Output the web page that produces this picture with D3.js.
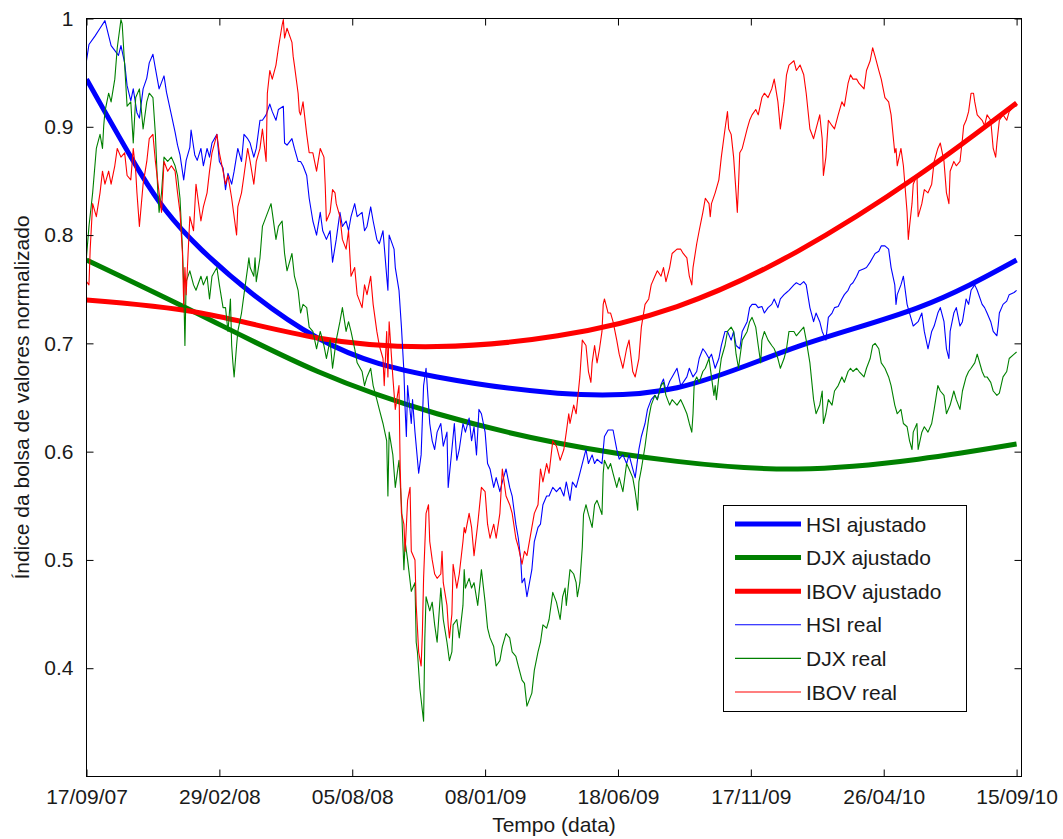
<!DOCTYPE html>
<html>
<head>
<meta charset="utf-8">
<script src="https://cdn.jsdelivr.net/npm/d3@7"></script>
<style>
  body { margin: 0; background: #fff; }
  text { font-family: "Liberation Sans", Arial, Helvetica, sans-serif; fill: #1a1a1a; }
</style>
</head>
<body>
<svg id="chart" width="1063" height="839"></svg>
<script>
// Trading-day index of each labelled date on the time axis
const dayTicks = [0, 108, 216, 324, 432, 540, 648, 756];
const dateLabels = ["17/09/07", "29/02/08", "05/08/08", "08/01/09", "18/06/09", "17/11/09", "26/04/10", "15/09/10"];
const valueTicks = [0.4, 0.5, 0.6, 0.7, 0.8, 0.9, 1];

// Normalised index series: [trading day, value]
const hsiReal = [[0,.961],[2,.976],[7,.984],[11,.991],[15,.998],[20,.975],[26,.966],[28,.975],[31,.959],[33,.938],[36,.924],[38,.935],[41,.913],[43,.908],[46,.935],[49,.945],[51,.959],[54,.967],[56,.954],[59,.935],[63,.947],[65,.932],[69,.911],[72,.895],[74,.883],[76,.874],[79,.851],[81,.869],[84,.881],[85,.897],[88,.874],[90,.869],[93,.880],[95,.864],[98,.880],[100,.872],[102,.885],[106,.893],[108,.868],[111,.862],[113,.842],[115,.857],[118,.847],[120,.859],[123,.880],[126,.868],[128,.893],[131,.889],[133,.885],[136,.872],[138,.880],[141,.906],[143,.906],[146,.911],[149,.921],[151,.914],[154,.906],[156,.916],[160,.919],[161,.885],[163,.883],[167,.889],[169,.880],[172,.868],[174,.868],[176,.864],[179,.855],[181,.834],[184,.813],[187,.800],[190,.821],[192,.804],[195,.796],[198,.804],[200,.775],[203,.796],[206,.821],[208,.808],[211,.813],[213,.804],[215,.817],[218,.829],[220,.817],[224,.821],[226,.804],[228,.808],[231,.826],[233,.813],[236,.796],[238,.792],[241,.804],[244,.762],[245,.749],[246,.800],[250,.787],[251,.770],[254,.749],[256,.715],[258,.674],[259,.639],[260,.614],[261,.661],[264,.626],[265,.648],[267,.618],[270,.580],[272,.597],[274,.661],[276,.677],[279,.626],[281,.610],[283,.602],[285,.618],[288,.626],[290,.605],[293,.618],[294,.567],[297,.602],[299,.626],[301,.592],[303,.602],[306,.626],[308,.618],[311,.631],[313,.610],[315,.623],[317,.597],[319,.639],[321,.635],[324,.618],[326,.589],[328,.584],[331,.567],[333,.576],[336,.563],[338,.572],[341,.584],[344,.567],[346,.559],[349,.533],[351,.520],[353,.500],[354,.479],[356,.483],[358,.466],[362,.491],[364,.517],[367,.530],[369,.533],[371,.551],[374,.559],[376,.559],[379,.567],[382,.563],[385,.567],[388,.559],[390,.572],[393,.555],[395,.572],[398,.567],[401,.580],[403,.589],[406,.602],[408,.589],[411,.597],[413,.589],[415,.593],[419,.589],[421,.614],[424,.620],[428,.620],[431,.602],[433,.593],[436,.597],[439,.589],[441,.597],[444,.584],[446,.576],[449,.602],[451,.614],[454,.626],[456,.639],[459,.648],[462,.652],[464,.648],[467,.662],[469,.667],[471,.656],[474,.665],[476,.669],[480,.677],[483,.661],[485,.664],[488,.669],[490,.677],[493,.669],[496,.674],[498,.686],[501,.695],[503,.692],[506,.686],[508,.690],[511,.677],[514,.686],[516,.698],[519,.711],[521,.711],[524,.703],[526,.711],[528,.698],[531,.695],[533,.711],[537,.720],[539,.733],[541,.736],[544,.736],[546,.733],[549,.734],[551,.728],[554,.733],[557,.736],[559,.741],[562,.733],[564,.741],[567,.745],[569,.747],[571,.749],[575,.754],[577,.756],[580,.754],[583,.757],[585,.754],[588,.733],[591,.720],[593,.728],[596,.720],[598,.711],[601,.703],[603,.724],[606,.728],[608,.733],[611,.734],[614,.741],[616,.745],[619,.749],[621,.754],[623,.756],[626,.762],[628,.767],[632,.769],[634,.770],[637,.775],[639,.779],[641,.783],[644,.785],[646,.790],[649,.790],[652,.787],[654,.770],[657,.754],[658,.736],[659,.745],[662,.754],[664,.762],[667,.736],[669,.728],[672,.716],[676,.720],[679,.728],[681,.711],[684,.695],[687,.711],[689,.716],[692,.728],[694,.733],[697,.720],[699,.695],[701,.686],[702,.711],[705,.728],[707,.733],[710,.716],[712,.720],[715,.741],[717,.736],[719,.749],[722,.754],[724,.749],[728,.736],[730,.733],[732,.728],[735,.720],[737,.711],[740,.707],[741,.716],[742,.728],[745,.736],[748,.739],[750,.745],[754,.747],[756,.749]];

const djxReal = [[0,.780],[2,.808],[5,.839],[8,.880],[11,.893],[13,.880],[14,.901],[15,.914],[18,.931],[20,.923],[23,.944],[25,.973],[28,.999],[29,.995],[31,.957],[33,.919],[36,.923],[38,.885],[40,.927],[43,.935],[46,.898],[49,.923],[51,.931],[54,.927],[56,.893],[58,.839],[59,.821],[61,.839],[63,.872],[66,.868],[69,.872],[72,.864],[74,.855],[76,.834],[78,.787],[79,.754],[80,.698],[81,.757],[84,.767],[87,.754],[89,.749],[93,.762],[95,.754],[98,.762],[100,.741],[102,.762],[106,.770],[108,.754],[111,.733],[113,.733],[115,.711],[117,.741],[118,.698],[119,.682],[120,.669],[122,.698],[123,.711],[126,.728],[128,.745],[131,.770],[132,.779],[133,.770],[136,.762],[137,.779],[138,.757],[141,.779],[143,.808],[146,.817],[149,.826],[150,.829],[151,.821],[154,.796],[156,.808],[159,.813],[161,.783],[163,.767],[167,.783],[169,.762],[172,.749],[174,.728],[176,.736],[179,.733],[181,.715],[184,.711],[187,.695],[190,.711],[193,.698],[195,.686],[198,.703],[200,.677],[203,.703],[206,.720],[208,.733],[211,.711],[213,.720],[215,.711],[218,.695],[220,.682],[224,.674],[226,.661],[228,.669],[231,.677],[233,.661],[236,.648],[238,.639],[241,.626],[244,.610],[245,.559],[246,.618],[249,.597],[251,.567],[254,.592],[256,.551],[258,.491],[259,.517],[261,.500],[264,.471],[267,.479],[268,.424],[269,.415],[271,.381],[274,.351],[275,.428],[276,.466],[279,.453],[281,.461],[283,.440],[285,.424],[288,.474],[290,.445],[293,.424],[295,.407],[297,.415],[298,.440],[301,.445],[303,.428],[306,.458],[307,.491],[308,.474],[311,.483],[313,.474],[315,.479],[318,.458],[321,.491],[324,.461],[326,.437],[328,.428],[331,.420],[333,.402],[336,.407],[338,.420],[341,.432],[344,.428],[346,.415],[349,.411],[351,.402],[354,.389],[356,.386],[358,.365],[362,.377],[364,.398],[367,.415],[369,.424],[371,.440],[374,.437],[376,.445],[379,.470],[382,.461],[385,.445],[387,.466],[389,.474],[390,.458],[393,.491],[396,.487],[398,.479],[399,.466],[401,.479],[403,.512],[404,.542],[406,.551],[408,.542],[411,.530],[413,.551],[415,.555],[419,.542],[420,.580],[421,.592],[424,.584],[426,.589],[428,.580],[431,.567],[433,.576],[436,.563],[439,.589],[441,.584],[444,.576],[446,.563],[448,.546],[449,.572],[451,.584],[454,.605],[457,.631],[459,.643],[462,.652],[464,.648],[467,.661],[469,.664],[471,.652],[474,.643],[476,.648],[480,.643],[483,.648],[485,.643],[488,.635],[490,.626],[492,.618],[493,.635],[494,.664],[496,.669],[498,.664],[501,.674],[503,.677],[506,.686],[508,.669],[510,.652],[511,.661],[512,.648],[514,.669],[516,.686],[519,.698],[521,.711],[524,.715],[526,.711],[528,.690],[530,.677],[531,.686],[533,.703],[537,.711],[539,.720],[541,.724],[544,.715],[546,.698],[548,.682],[549,.703],[551,.711],[554,.703],[557,.698],[559,.695],[562,.686],[564,.677],[567,.686],[569,.695],[571,.711],[575,.711],[577,.707],[580,.711],[583,.715],[585,.703],[588,.682],[591,.648],[593,.635],[596,.643],[598,.656],[599,.626],[601,.635],[603,.648],[606,.643],[608,.656],[611,.661],[614,.669],[616,.664],[619,.674],[621,.677],[623,.674],[626,.677],[628,.674],[632,.669],[634,.677],[637,.686],[639,.698],[641,.700],[644,.695],[646,.682],[649,.677],[652,.669],[654,.661],[657,.643],[659,.635],[662,.639],[664,.626],[667,.623],[669,.610],[671,.602],[672,.618],[675,.626],[676,.602],[679,.618],[681,.623],[684,.618],[687,.626],[689,.639],[692,.661],[694,.656],[697,.652],[699,.635],[702,.643],[705,.656],[707,.648],[710,.639],[712,.656],[715,.669],[717,.674],[719,.677],[722,.682],[724,.690],[728,.674],[730,.669],[732,.669],[735,.664],[737,.656],[740,.652],[742,.654],[745,.669],[748,.674],[750,.686],[754,.690],[756,.692]];

const ibovReal = [[0,.757],[2,.754],[3,.787],[5,.829],[8,.817],[11,.839],[13,.859],[15,.847],[18,.859],[20,.847],[23,.864],[25,.880],[28,.872],[31,.876],[33,.855],[36,.851],[38,.880],[40,.859],[41,.839],[43,.808],[46,.847],[49,.868],[51,.889],[54,.893],[56,.868],[59,.839],[61,.821],[63,.868],[66,.859],[69,.864],[72,.859],[74,.839],[76,.821],[78,.783],[79,.736],[80,.770],[81,.745],[84,.817],[87,.804],[89,.847],[93,.813],[95,.826],[98,.839],[100,.859],[102,.876],[106,.893],[108,.876],[111,.859],[113,.847],[115,.855],[118,.834],[120,.817],[122,.800],[123,.826],[126,.839],[128,.855],[131,.880],[133,.868],[136,.847],[138,.868],[141,.880],[143,.898],[146,.868],[147,.931],[149,.952],[151,.944],[154,.957],[156,.973],[159,.994],[160,.999],[161,.982],[163,.991],[167,.978],[168,.965],[169,.957],[172,.931],[173,.914],[174,.911],[176,.923],[179,.893],[181,.876],[184,.876],[187,.859],[190,.880],[193,.872],[194,.847],[195,.813],[198,.821],[200,.842],[202,.839],[203,.829],[206,.817],[208,.796],[211,.787],[213,.804],[215,.762],[218,.770],[220,.745],[224,.733],[226,.754],[228,.745],[231,.762],[233,.736],[236,.711],[238,.698],[241,.686],[242,.661],[244,.711],[245,.669],[246,.720],[249,.669],[251,.639],[254,.661],[255,.584],[256,.543],[258,.533],[259,.508],[261,.555],[263,.567],[264,.508],[267,.500],[268,.458],[269,.437],[270,.415],[272,.402],[273,.432],[274,.483],[276,.543],[278,.551],[279,.517],[281,.500],[283,.487],[285,.483],[288,.487],[289,.508],[290,.479],[293,.458],[294,.440],[295,.428],[297,.450],[298,.496],[301,.474],[303,.487],[306,.517],[307,.530],[308,.525],[311,.543],[313,.530],[315,.504],[318,.533],[321,.567],[324,.563],[326,.533],[328,.520],[331,.533],[333,.520],[336,.543],[338,.584],[341,.559],[344,.551],[346,.543],[349,.520],[351,.512],[354,.496],[356,.508],[358,.504],[362,.530],[364,.543],[367,.551],[369,.584],[371,.572],[374,.589],[376,.580],[379,.610],[382,.605],[385,.592],[388,.602],[390,.618],[392,.635],[393,.626],[396,.643],[398,.635],[401,.669],[403,.703],[406,.698],[408,.674],[410,.664],[411,.682],[413,.698],[415,.682],[417,.695],[419,.711],[420,.736],[421,.741],[424,.728],[426,.728],[428,.720],[431,.703],[433,.690],[436,.677],[439,.695],[441,.703],[444,.674],[446,.669],[449,.686],[451,.715],[454,.736],[457,.741],[459,.754],[462,.762],[464,.767],[467,.762],[469,.770],[471,.757],[474,.770],[476,.783],[480,.787],[483,.787],[485,.783],[488,.779],[490,.762],[492,.754],[493,.770],[496,.792],[498,.804],[501,.821],[503,.834],[506,.829],[507,.817],[508,.829],[511,.839],[514,.851],[516,.872],[519,.898],[520,.906],[521,.914],[522,.898],[524,.893],[526,.872],[528,.839],[529,.821],[530,.847],[531,.876],[533,.880],[537,.898],[539,.906],[541,.911],[544,.916],[546,.911],[549,.927],[551,.931],[554,.927],[557,.935],[559,.944],[562,.923],[564,.898],[567,.923],[569,.948],[571,.957],[575,.961],[577,.952],[580,.957],[583,.948],[585,.931],[588,.898],[591,.889],[593,.898],[596,.911],[598,.889],[599,.855],[601,.872],[603,.906],[606,.901],[608,.898],[611,.911],[614,.923],[616,.919],[619,.940],[621,.948],[623,.944],[626,.944],[628,.940],[632,.935],[634,.952],[637,.961],[639,.973],[641,.965],[644,.952],[646,.944],[649,.927],[652,.923],[654,.911],[657,.876],[658,.880],[659,.864],[662,.880],[664,.864],[667,.821],[668,.796],[669,.808],[671,.829],[672,.847],[675,.855],[676,.817],[679,.829],[681,.842],[684,.839],[687,.847],[689,.868],[692,.880],[694,.885],[697,.868],[699,.839],[701,.829],[702,.859],[705,.868],[707,.864],[710,.868],[712,.889],[713,.901],[715,.906],[717,.914],[719,.931],[721,.931],[722,.923],[724,.911],[728,.906],[730,.901],[732,.911],[735,.906],[737,.880],[739,.872],[740,.885],[742,.906],[745,.911],[748,.906],[750,.914],[754,.919],[756,.919]];

// Fitted trends: [trading day, value]
const hsiFit  = [[0,.944],[44,.857],[93,.787],[188,.705],[285,.669],[383,.654],[480,.659],[578,.697],[676,.733],[756,.777]];
const djxFit  = [[0,.777],[93,.726],[188,.674],[285,.635],[383,.608],[480,.591],[578,.584],[676,.593],[756,.607]];
const ibovFit = [[0,.740],[93,.728],[188,.705],[285,.697],[383,.707],[480,.734],[578,.785],[676,.855],[756,.922]];

const seriesNames = ["HSI ajustado", "DJX ajustado", "IBOV ajustado", "HSI real", "DJX real", "IBOV real"];
const seriesColors = ["#0000ff", "#008000", "#ff0000", "#0000ff", "#008000", "#ff0000"];

const svg = d3.select("#chart");
const plot = { left: 86.5, right: 1021.5, top: 18.5, bottom: 776.5 };

const x = d3.scaleLinear().domain([0, 760]).range([plot.left, plot.right]);
const y = d3.scaleLinear().domain([0.3, 1]).range([plot.bottom, plot.top]);

const clip = svg.append("defs").append("clipPath").attr("id", "plotClip")
  .append("rect").attr("x", plot.left).attr("y", plot.top - 3)
  .attr("width", plot.right - plot.left).attr("height", plot.bottom - plot.top + 3);

const lineSharp = d3.line().x(d => x(d[0])).y(d => y(d[1]));
const lineSmooth = d3.line().x(d => x(d[0])).y(d => y(d[1])).curve(d3.curveNatural);

const layers = svg.append("g").attr("clip-path", "url(#plotClip)");
const all = [
  { data: hsiFit, w: 5, smooth: true },
  { data: djxFit, w: 5, smooth: true },
  { data: ibovFit, w: 5, smooth: true },
  { data: hsiReal, w: 1.1, smooth: false },
  { data: djxReal, w: 1.1, smooth: false },
  { data: ibovReal, w: 1.1, smooth: false }
];
all.forEach((s, i) => {
  layers.append("path")
    .attr("d", (s.smooth ? lineSmooth : lineSharp)(s.data))
    .attr("fill", "none")
    .attr("stroke", seriesColors[i])
    .attr("stroke-width", s.w)
    .attr("stroke-linejoin", "round");
});

// Axes: ticks point inwards on all four sides
const tickLen = 7;
const axisStyle = g => {
  g.select(".domain").remove();
  g.selectAll(".tick line").attr("stroke", "#000");
  g.selectAll("text").style("font-size", "21px").attr("fill", "#1a1a1a");
};
svg.append("g").attr("transform", `translate(0,${plot.bottom})`)
  .call(d3.axisBottom(x).tickValues(dayTicks).tickFormat((d, i) => dateLabels[i]).tickSize(-tickLen).tickPadding(13))
  .call(axisStyle);
svg.append("g").attr("transform", `translate(0,${plot.top})`)
  .call(d3.axisTop(x).tickValues(dayTicks).tickFormat("").tickSize(-tickLen))
  .call(axisStyle);
svg.append("g").attr("transform", `translate(${plot.left},0)`)
  .call(d3.axisLeft(y).tickValues(valueTicks).tickFormat(d3.format("~g")).tickSize(-tickLen).tickPadding(13))
  .call(axisStyle);
svg.append("g").attr("transform", `translate(${plot.right},0)`)
  .call(d3.axisRight(y).tickValues(valueTicks).tickFormat("").tickSize(-tickLen))
  .call(axisStyle);

svg.append("rect")
  .attr("x", plot.left).attr("y", plot.top)
  .attr("width", plot.right - plot.left).attr("height", plot.bottom - plot.top)
  .attr("fill", "none").attr("stroke", "#000").attr("stroke-width", 1);

// Axis titles
svg.append("text")
  .attr("x", (plot.left + plot.right) / 2).attr("y", 832)
  .attr("text-anchor", "middle").style("font-size", "21px")
  .text("Tempo (data)");
svg.append("text")
  .attr("transform", `translate(29,${(plot.top + plot.bottom) / 2}) rotate(-90)`)
  .attr("text-anchor", "middle").style("font-size", "21px")
  .text("Índice da bolsa de valores normalizado");

// Legend
const legend = svg.append("g");
legend.append("rect")
  .attr("x", 723.5).attr("y", 505.5).attr("width", 243).attr("height", 206)
  .attr("fill", "#fff").attr("stroke", "#000").attr("stroke-width", 1);
seriesNames.forEach((name, i) => {
  const cy = 524 + i * 33.6;
  legend.append("line")
    .attr("x1", 735).attr("x2", 801).attr("y1", cy).attr("y2", cy)
    .attr("stroke", seriesColors[i]).attr("stroke-width", all[i].w);
  legend.append("text")
    .attr("x", 806).attr("y", cy + 7.5)
    .style("font-size", "21px")
    .text(name);
});
</script>
</body>
</html>
